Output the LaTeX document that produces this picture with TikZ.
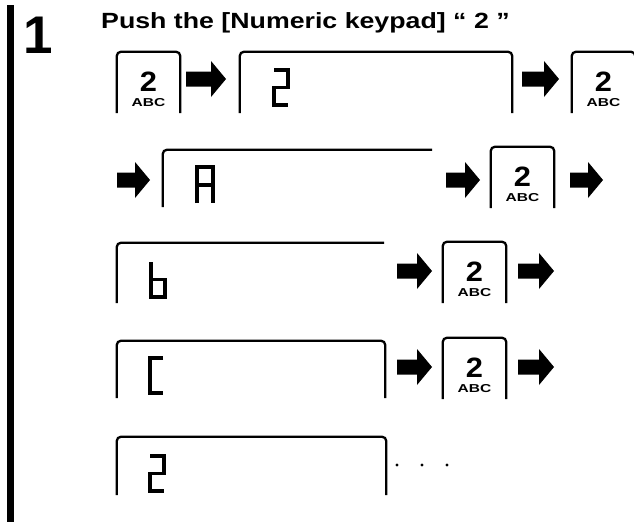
\documentclass[tikz,border=0pt]{standalone}
\usepackage{fontspec}
\setmainfont{Liberation Sans}
\usetikzlibrary{calc}
\newcommand\blockarrow[3]{%
  \fill (#1,#3-7.5) -- ({#2-15},#3-7.5) -- ({#2-15},#3-18) -- (#2,#3) -- ({#2-15},#3+18) -- ({#2-15},#3+7.5) -- (#1,#3+7.5) -- cycle;}
\tikzset{
  keybox/.style={inner sep=0pt, minimum width=63pt, minimum height=61pt},
  dispbox/.style={inner sep=0pt},
  outline/.style={line width=2.3pt, rounded corners=4pt},
  seg/.style={line width=3.2pt, line join=miter, line cap=butt},
  keydigit/.style={anchor=base, inner sep=0pt, font=\bfseries\fontsize{28}{28}\selectfont},
  keyabc/.style={anchor=base, inner sep=0pt, font=\bfseries\fontsize{11.5}{12}\selectfont},
}
\begin{document}
\begin{tikzpicture}[x=1pt, y=-1pt]
\useasboundingbox (0,0) rectangle (634,522);
% left bar
\fill (7,5) rectangle (14,522);
% step number and title
\node[anchor=base west, inner sep=0pt, font=\bfseries\fontsize{53}{53}\selectfont] (num) at (23,53) {\scalebox{1.0}[1]{1}};
\node[anchor=base west, inner sep=0pt, font=\bfseries\fontsize{22}{22}\selectfont] (title) at (101,28) {\scalebox{1.215}[1]{Push the [Numeric keypad] “ 2 ”}};

% keys
\node[keybox] (k1) at (148.5,82.5) {};
\node[keybox] (k2) at (603.5,82.5) {};
\node[keybox] (k3) at (522.5,177.5) {};
\node[keybox] (k4) at (474.5,272.5) {};
\node[keybox] (k5) at (474.5,368.5) {};
\foreach \k in {k1,k2,k3,k4,k5}{
  \draw[outline] (\k.south west) -- (\k.north west) -- (\k.north east) -- (\k.south east);
  \node[keydigit] (\k d) at ($(\k.north)+(0,40)$) {\scalebox{1.1}[1]{2}};
  \node[keyabc] (\k a) at ($(\k.north)+(0,55)$) {\scalebox{1.35}[1]{ABC}};
}

% displays
\node[dispbox, minimum width=272pt, minimum height=61pt] (d1) at (376,82.5) {};
\node[dispbox, minimum width=269pt, minimum height=57pt] (d2) at (297.5,178.5) {};
\node[dispbox, minimum width=267pt, minimum height=60pt] (d3) at (250.5,273) {};
\node[dispbox, minimum width=268pt, minimum height=57pt] (d4) at (251,369.5) {};
\node[dispbox, minimum width=269pt, minimum height=58pt] (d5) at (251.5,466) {};
\draw[outline] (d1.south west) -- (d1.north west) -- (d1.north east) -- (d1.south east);
\draw[outline] (d2.south west) -- (d2.north west) -- (d2.north east);
\draw[outline] (d3.south west) -- (d3.north west) -- (d3.north east);
\draw[outline] (d4.south west) -- (d4.north west) -- (d4.north east) -- (d4.south east);
\draw[outline] (d5.south west) -- (d5.north west) -- (d5.north east) -- (d5.south east);

% seven-segment glyphs
\begin{scope}[shift={(274,70)}]
  \draw[seg] (0,0) -- (14,0) -- (14,17.5) -- (0,17.5) -- (0,35) -- (14,35);
\end{scope}
\begin{scope}[shift={(197,167)}]
  \draw[seg] (0,36) -- (0,0) -- (16,0) -- (16,36);
  \draw[seg] (0,18) -- (16,18);
\end{scope}
\begin{scope}[shift={(151,262)}]
  \draw[seg] (0,0) -- (0,35) -- (14,35) -- (14,17.5) -- (0,17.5);
\end{scope}
\begin{scope}[shift={(150,358)}]
  \draw[seg] (13,0) -- (0,0) -- (0,35) -- (13,35);
\end{scope}
\begin{scope}[shift={(150,456)}]
  \draw[seg] (0,0) -- (14,0) -- (14,17.5) -- (0,17.5) -- (0,35) -- (14,35);
\end{scope}

% block arrows
\blockarrow{186}{226}{79}
\blockarrow{522}{559}{79}
\blockarrow{117}{150}{180}
\blockarrow{446}{480}{180}
\blockarrow{570}{603}{180}
\blockarrow{397}{432}{271}
\blockarrow{518}{554}{271}
\blockarrow{397}{432}{367}
\blockarrow{518}{554}{367}

% continuation dots
\foreach \x in {397,422,447}{ \fill (\x,465) circle (1.7pt); }
\end{tikzpicture}
\end{document}
